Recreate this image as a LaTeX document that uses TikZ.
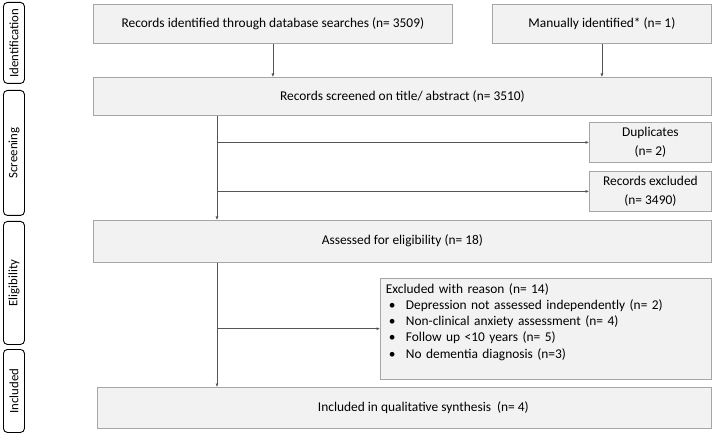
\documentclass[tikz,border=0pt]{standalone}
\usepackage{fontspec}
\setmainfont{Carlito}
\usetikzlibrary{arrows.meta}
\definecolor{boxfill}{HTML}{F2F2F2}
\definecolor{boxline}{HTML}{A6A6A6}
\definecolor{arrline}{HTML}{555555}
\tikzset{
  box/.style={draw=boxline, fill=boxfill, line width=0.8pt, anchor=north west, inner sep=2pt, font=\fontsize{13.4}{16.5}\selectfont},
  side/.style={draw=black, fill=white, rounded corners=4pt, line width=0.9pt, anchor=north west, inner sep=0pt},
  sidetext/.style={rotate=90, font=\fontsize{12.8}{16}\selectfont},
  arr/.style={draw=arrline, line width=0.6pt, -{Latex[length=3.5pt,width=3pt]}},
}
\begin{document}
\begin{tikzpicture}[x=1pt,y=-1pt]
\useasboundingbox (0,0) rectangle (714,435);
% side labels
\node[side, minimum width=21pt, minimum height=81pt] (sid) at (3,2) {};
\node[sidetext] (tid) at (sid.center) {Identification};
\node[side, minimum width=21pt, minimum height=125pt] (ssc) at (3,90) {};
\node[sidetext] (tsc) at (ssc.center) {Screening};
\node[side, minimum width=21pt, minimum height=123pt] (sel) at (3,221) {};
\node[sidetext] (tel) at (sel.center) {Eligibility};
\node[side, minimum width=21pt, minimum height=83pt] (sin) at (3,349) {};
\node[sidetext] (tin) at (sin.center) {Included};
% boxes
\node[box, minimum width=359pt, minimum height=39pt] (A) at (93,4) {Records identified through database searches (n= 3509)};
\node[box, minimum width=219pt, minimum height=39pt] (B) at (492,4) {Manually identified* (n= 1)};
\node[box, minimum width=618pt, minimum height=38pt] (C) at (93,77) {Records screened on title/ abstract (n= 3510)};
\node[box, minimum width=122pt, minimum height=40pt, align=center, font=\fontsize{13.4}{19.5}\selectfont] (dup) at (589,122) {Duplicates\\(n= 2)};
\node[box, minimum width=122pt, minimum height=40pt, align=center, font=\fontsize{13.4}{19.5}\selectfont] (rex) at (589,171) {Records excluded\\(n= 3490)};
\node[box, minimum width=618pt, minimum height=42pt] (D) at (93,220) {\raisebox{3pt}{Assessed for eligibility (n= 18)}};
\node[box, minimum width=331pt, align=left, text width=320pt, inner sep=5pt, font=\fontsize{13.4}{16.2}\selectfont] (E) at (380,278) {%
Excluded with reason (n= 14)\\
\makebox[20pt][l]{\hspace{3pt}\textbullet}Depression not assessed independently (n= 2)\\
\makebox[20pt][l]{\hspace{3pt}\textbullet}Non-clinical anxiety assessment (n= 4)\\
\makebox[20pt][l]{\hspace{3pt}\textbullet}Follow up <10 years (n= 5)\\
\makebox[20pt][l]{\hspace{3pt}\textbullet}No dementia diagnosis (n=3)\rule[-16pt]{0pt}{16pt}};
\node[box, minimum width=614pt, minimum height=41pt] (F) at (97,387) {\hspace{38pt}Included in qualitative synthesis\ \ (n= 4)};
% spine
\coordinate (sp) at (217,0);
% connectors
\draw[arr] (A.south) -- (A.south |- C.north);
\draw[arr] (B.south) -- (B.south |- C.north);
\draw[arr] (C.south -| sp) -- (D.north -| sp);
\draw[arr] (dup.west -| sp) -- (dup.west);
\draw[arr] (rex.west -| sp) -- (rex.west);
\draw[arr] (D.south -| sp) -- (F.north -| sp);
\draw[arr] (E.west -| sp) -- (E.west);
\end{tikzpicture}
\end{document}
